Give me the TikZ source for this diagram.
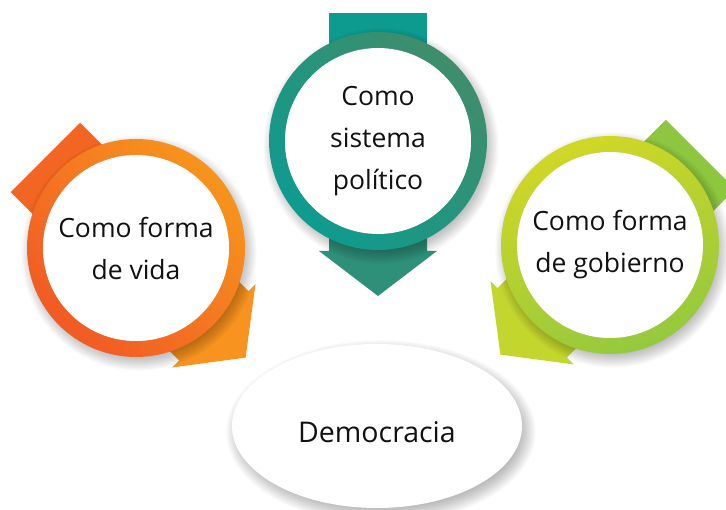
\documentclass[tikz,border=0pt]{standalone}
\usepackage{fontspec}
\setmainfont{Open Sans}
\usetikzlibrary{shapes.geometric}
\definecolor{ltail}{HTML}{F26522}
\definecolor{lhead}{HTML}{F7931E}
\definecolor{lringA}{HTML}{F7941D}
\definecolor{lringB}{HTML}{F15A24}
\definecolor{ttail}{HTML}{0D9A8F}
\definecolor{thead}{HTML}{2E9079}
\definecolor{tringA}{HTML}{3F8D6B}
\definecolor{tringB}{HTML}{0E9B8F}
\definecolor{rtail}{HTML}{8DC63F}
\definecolor{rhead}{HTML}{C3D62D}
\definecolor{rringA}{HTML}{D1D726}
\definecolor{rringB}{HTML}{95C93D}
\definecolor{txt}{HTML}{111111}
\tikzset{
  circtext/.style={align=center, text=txt, font=\fontsize{26.5}{42}\selectfont, inner sep=0pt},
  softshadow/.style={black, opacity=0.025}
}
\newcommand\ringarrow[9]{%
  \begin{scope}[shift={#1}]
    \begin{scope}[rotate=#2]
      \fill[#3] (-128,-49) rectangle (0,49);
      \fill[#4] (0,-49) -- (110,-49) -- (110,-59) -- (155,0) -- (110,59) -- (110,49) -- (0,49) -- cycle;
    \end{scope}
    \foreach \i in {1,...,12} \fill[softshadow] (3,-5) circle ({102+\i*1.3});
    \shade[top color=#5, bottom color=#6, shading angle=#7, even odd rule] (0,0) circle (109) (0,0) circle (93);
    \fill[white] (0,0) circle (93);
  \end{scope}
  \node[circtext] (#8) at #1 {#9};
}
\begin{document}
\begin{tikzpicture}[x=1pt,y=1pt]
\useasboundingbox (0,0) rectangle (726,510);
\fill[white] (0,0) rectangle (726,510);
% ellipse
\foreach \i in {1,...,12} \fill[softshadow] (381,78) ellipse ({138+\i*1.4} and {75+\i*1.4});
\node[ellipse, fill=white, minimum width=290pt, minimum height=164pt, inner sep=0pt] (demo) at (377,84) {};
\node[text=txt, font=\fontsize{28.5}{32}\selectfont] (demotext) at (377,78) {Democracia};
\ringarrow{(136,262)}{-45}{ltail}{lhead}{lringA}{lringB}{-45}{vida}{Como forma\\de vida}
\ringarrow{(378,369)}{-90}{ttail}{thead}{tringA}{tringB}{-45}{sistema}{Como\\sistema\\político}
\ringarrow{(610,265)}{-135}{rtail}{rhead}{rringA}{rringB}{20}{gobierno}{Como forma\\de gobierno}
\end{tikzpicture}
\end{document}
